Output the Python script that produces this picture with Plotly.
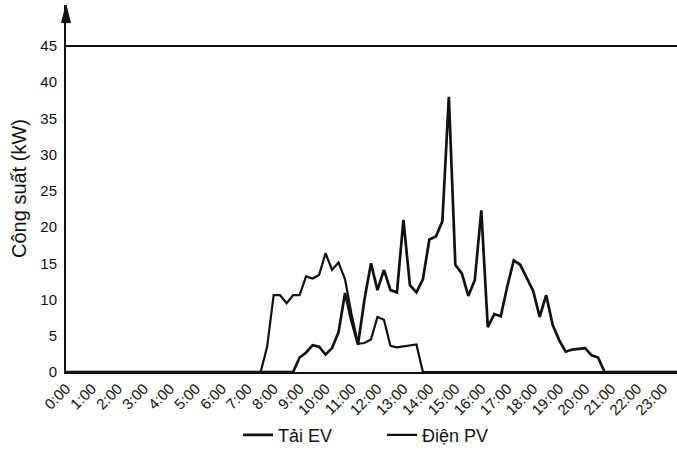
import plotly.graph_objects as go

# 15-minute samples from 0:00 to 23:45
ev_load = [0.0] * 36 + [
    2.0, 2.7, 3.7, 3.5,        # 9:00
    2.4, 3.3, 5.5, 10.9,       # 10:00
    7.0, 3.8, 10.0, 15.0,      # 11:00
    11.3, 14.1, 11.3, 11.0,    # 12:00
    21.0, 12.0, 11.0, 12.8,    # 13:00
    18.3, 18.7, 20.8, 38.0,    # 14:00
    14.8, 13.6, 10.5, 12.7,    # 15:00
    22.3, 6.2, 8.0, 7.7,       # 16:00
    11.8, 15.4, 14.8, 12.9,    # 17:00
    11.2, 7.6, 10.6, 6.5,      # 18:00
    4.4, 2.8, 3.1, 3.2,        # 19:00
    3.3, 2.3, 2.0, 0.0,        # 20:00
] + [0.0] * 12

pv_power = [0.0] * 31 + [
    3.5,                       # 7:45
    10.6, 10.6, 9.5, 10.6,     # 8:00
    10.6, 13.2, 12.9, 13.4,    # 9:00
    16.4, 14.1, 15.1, 12.8,    # 10:00
    8.0, 3.9, 4.0, 4.5,        # 11:00
    7.6, 7.2, 3.6, 3.4,        # 12:00
    3.5, 3.7, 3.8, 0.0,        # 13:00
] + [0.0] * 40

hour_ticks = list(range(24))
hour_labels = [f"{h}:00" for h in hour_ticks]
y_ticks = [0, 5, 10, 15, 20, 25, 30, 35, 40, 45]
series_names = ["Tải EV", "Điện PV"]
limit_value = 45

hours = [i * 0.25 for i in range(len(ev_load))]

FONT = "Liberation Sans, Arial, sans-serif"

fig = go.Figure()
fig.add_trace(go.Scatter(x=hours, y=ev_load, mode="lines", name=series_names[0],
                         line=dict(color="#111111", width=2.7)))
fig.add_trace(go.Scatter(x=hours, y=pv_power, mode="lines", name=series_names[1],
                         line=dict(color="#111111", width=2.2)))

# horizontal limit line at 45 kW
fig.add_shape(type="line", xref="paper", x0=0, x1=1, yref="y", y0=limit_value, y1=limit_value,
              line=dict(color="#111111", width=2))
# arrow head at top of y axis
fig.add_shape(type="path", xref="paper", yref="paper",
              path="M -0.0072 0.952 L 0 1.0 L 0.0072 0.952 Z",
              fillcolor="#111111", line=dict(color="#111111", width=1))

fig.update_layout(
    width=677, height=462,
    margin=dict(l=66, r=0, t=5, b=90),
    paper_bgcolor="white", plot_bgcolor="white",
    font=dict(family=FONT, color="#111111"),
    showlegend=True,
    legend=dict(orientation="h", x=0.2815, xanchor="left", y=-0.172, yanchor="middle",
                font=dict(size=18, family=FONT), entrywidth=99, entrywidthmode="pixels",
                bgcolor="rgba(0,0,0,0)"),
    xaxis=dict(range=[0, 23.54], tickmode="array", tickvals=hour_ticks, ticktext=hour_labels,
               tickangle=-45, tickfont=dict(size=15), showgrid=False, zeroline=False,
               showline=True, linecolor="#111111", linewidth=2, ticks=""),
    yaxis=dict(range=[0, 50.66], tickmode="array", tickvals=y_ticks,
               tickfont=dict(size=15), showgrid=False, zeroline=False,
               showline=True, linecolor="#111111", linewidth=2, ticks="",
               ticklabelstandoff=4,
               title=dict(text="Công suất (kW)", font=dict(size=20), standoff=8)),
)

fig.write_html("out.html")
